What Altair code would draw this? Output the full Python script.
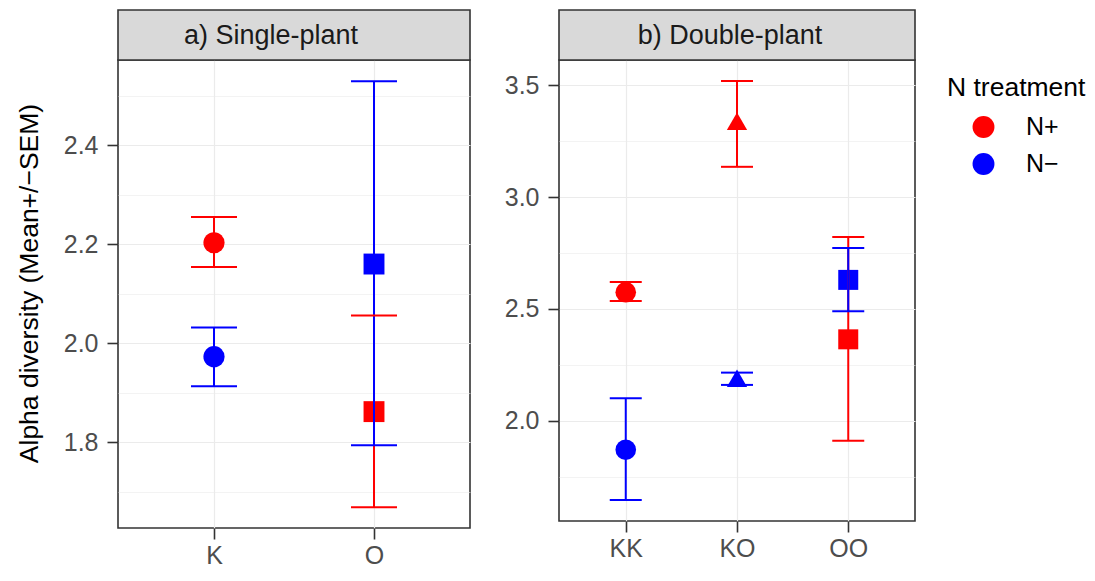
import altair as alt
import pandas as pd

# ---- data ----
a_geno = ["K", "K", "O", "O"]
a_trt = ["N+", "N\u2212", "N+", "N\u2212"]
a_mean = [2.203, 1.973, 1.862, 2.160]
a_upper = [2.255, 2.032, 2.056, 2.529]
a_lower = [2.154, 1.913, 1.669, 1.794]

b_geno = ["KK", "KK", "KO", "KO", "OO", "OO"]
b_trt = ["N+", "N\u2212", "N+", "N\u2212", "N+", "N\u2212"]
b_mean = [2.575, 1.870, 3.340, 2.190, 2.364, 2.630]
b_upper = [2.620, 2.100, 3.520, 2.215, 2.822, 2.773]
b_lower = [2.535, 1.645, 3.136, 2.160, 1.910, 2.490]

a_ticks = [1.7, 1.8, 1.9, 2.0, 2.1, 2.2, 2.3, 2.4, 2.5]
b_ticks = [1.75, 2.0, 2.25, 2.5, 2.75, 3.0, 3.25, 3.5]
a_domain = [1.627, 2.572]
b_domain = [1.551, 3.614]

trt_domain = ["N+", "N\u2212"]
trt_colors = ["#FF0000", "#0000FF"]
shape_domain = ["K", "O", "KK", "KO", "OO"]
shape_range = ["circle", "square", "circle", "triangle-up", "square"]
size_range = [450, 400, 450, 660, 400]

FONT = "Liberation Sans"
GRID = "#EBEBEB"
DARK = "#333333"


def panel(geno, trt, mean, upper, lower, ticks, domain, major_test, strip_label,
          strip_dx, W, H, cap, ytitle, legend):
    df = pd.DataFrame({"genotype": geno, "treatment": trt, "mean": mean,
                       "upper": upper, "lower": lower})
    xenc = alt.X("genotype:N", sort=sorted(set(geno), key=geno.index),
                 scale=alt.Scale(type="point", padding=0.6),
                 axis=alt.Axis(title=None, labelAngle=0, grid=True, gridColor=GRID,
                               gridWidth=1.2, tickSize=11, tickWidth=1.6,
                               tickColor=DARK, domain=False, labelFontSize=25,
                               labelColor="#4D4D4D", labelPadding=4))
    yaxis = dict(values=ticks, format=".1f", grid=True, gridColor=GRID,
                 gridWidth={"condition": {"test": major_test, "value": 1.2}, "value": 0.6},
                 tickOpacity={"condition": {"test": major_test, "value": 1}, "value": 0},
                 labelExpr="(" + major_test + ") ? datum.label : ''",
                 tickSize=11, tickWidth=1.6, tickColor=DARK, domain=False,
                 labelFontSize=25, labelColor="#4D4D4D", labelPadding=9)
    if ytitle:
        yaxis.update(title=ytitle, titleFontSize=26.5, titleColor="black",
                     titleFontWeight="normal", titlePadding=20, titleY=H / 2 - 11)
    else:
        yaxis.update(title=None)
    yscale = alt.Scale(domain=domain, nice=False, zero=False)

    base = alt.Chart(df)
    points = base.mark_point(filled=True, opacity=1).encode(
        x=xenc,
        y=alt.Y("mean:Q", scale=yscale, axis=alt.Axis(**yaxis)),
        color=alt.Color("treatment:N",
                        scale=alt.Scale(domain=trt_domain, range=trt_colors),
                        legend=legend),
        shape=alt.Shape("genotype:N",
                        scale=alt.Scale(domain=shape_domain, range=shape_range),
                        legend=None),
        size=alt.Size("genotype:N",
                      scale=alt.Scale(domain=shape_domain, range=size_range),
                      legend=None),
    )
    stroke_enc = alt.Stroke("treatment:N",
                            scale=alt.Scale(domain=trt_domain, range=trt_colors),
                            legend=None)
    fill_enc = alt.Fill("treatment:N",
                        scale=alt.Scale(domain=trt_domain, range=trt_colors),
                        legend=None)
    rules = base.mark_rule(strokeWidth=2).encode(
        x=xenc, y=alt.Y("lower:Q", scale=yscale), y2="upper:Q", stroke=stroke_enc)
    cap_hi = base.mark_tick(thickness=2, size=cap, opacity=1).encode(
        x=xenc, y=alt.Y("upper:Q", scale=yscale), fill=fill_enc)
    cap_lo = base.mark_tick(thickness=2, size=cap, opacity=1).encode(
        x=xenc, y=alt.Y("lower:Q", scale=yscale), fill=fill_enc)

    strip_df = pd.DataFrame({"label": [strip_label]})
    strip = alt.Chart(strip_df).mark_rect(fill="#D9D9D9", stroke=DARK,
                                          strokeWidth=1.6).encode(
        x=alt.value(0), x2=alt.value(W), y=alt.value(-50), y2=alt.value(0))
    strip_text = alt.Chart(strip_df).mark_text(
        fontSize=27, color="#1A1A1A", baseline="middle", align="center").encode(
        x=alt.value(W / 2 + strip_dx), y=alt.value(-24), text="label:N")

    return alt.layer(strip, strip_text, points, rules, cap_hi, cap_lo).properties(
        width=W, height=H).resolve_scale(stroke="shared", fill="shared")


legend = alt.Legend(title="N treatment", orient="none", legendX=829, legendY=15,
                    titleFontSize=26.5, titleFontWeight="normal",
                    titleColor="black", titlePadding=13,
                    labelFontSize=25, labelColor="black",
                    symbolType="circle", symbolSize=480,
                    symbolOffset=24, labelOffset=30,
                    rowPadding=11, symbolStrokeWidth=0)

left = panel(a_geno, a_trt, a_mean, a_upper, a_lower, a_ticks, a_domain,
             "round(datum.value*10) % 2 == 0", "a) Single-plant", -23,
             352, 468, 46, "Alpha diversity (Mean+/\u2212SEM)", legend)
right = panel(b_geno, b_trt, b_mean, b_upper, b_lower, b_ticks, b_domain,
              "round(datum.value*4) % 2 == 0", "b) Double-plant", -7,
              356, 461, 32, None, legend)

chart = alt.hconcat(left, right, spacing=31).resolve_scale(
    x="independent", y="independent", color="shared",
    shape="independent", size="independent", stroke="independent",
    fill="independent").properties(
    padding={"left": 7, "top": 0, "right": 0, "bottom": 5}
).configure(font=FONT).configure_view(stroke=DARK, strokeWidth=1.6)

chart.save("out.html", embed_options={"renderer": "svg", "actions": False})
